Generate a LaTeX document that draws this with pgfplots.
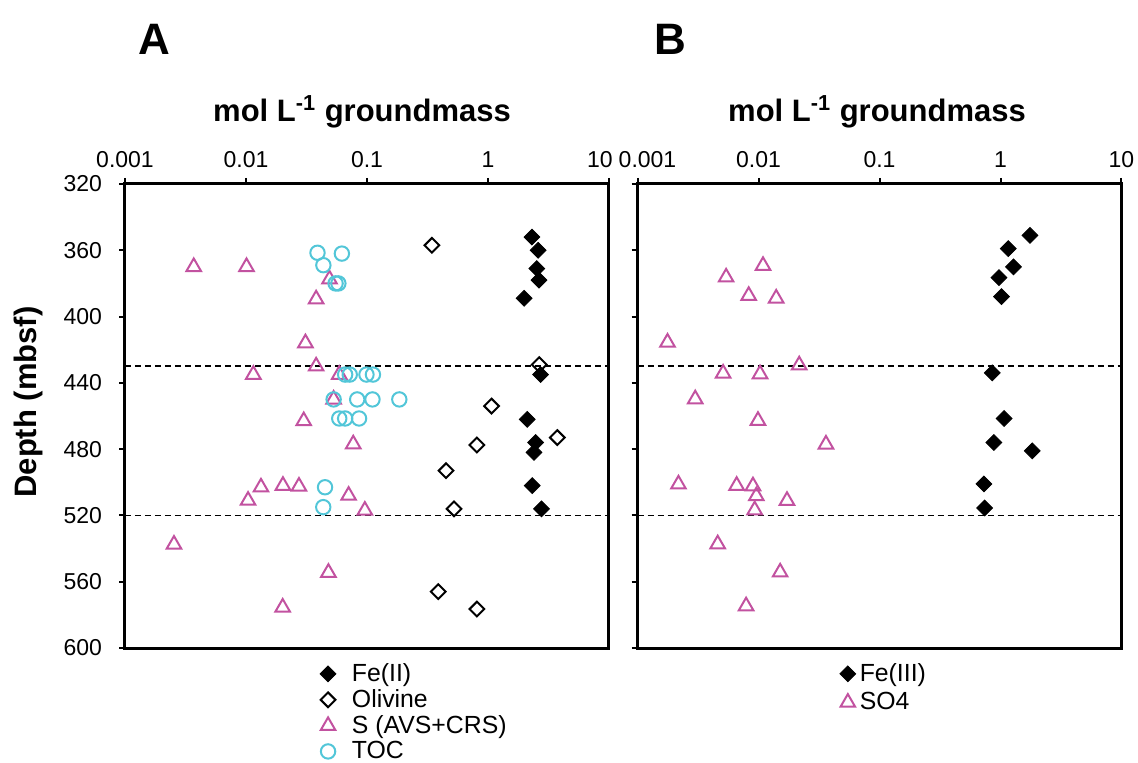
\documentclass[border=0pt]{standalone}
\usepackage{fontspec}
\setmainfont{Liberation Sans}
\usepackage{pgfplots}
\pgfplotsset{compat=1.18}

\definecolor{smag}{RGB}{194,82,160}
\definecolor{tocc}{RGB}{82,198,216}

\begin{document}
\begin{tikzpicture}
\useasboundingbox (-62.5pt,-57.5pt) rectangle (506.5pt,324pt);

% panel A
\begin{axis}[
  at={(0pt,0pt)}, anchor=south west,
  scale only axis, width=242pt, height=232pt,
  xmode=log, xmin=0.001, xmax=10,
  ymin=320, ymax=600, y dir=reverse,
  xtick={0.001,0.01,0.1,1,10},
  xticklabels={0.001,0.01,0.1,1,\hspace*{-9pt}10},
  xtick pos=right, xticklabel pos=right,
  ytick={320,360,400,440,480,520,560,600},
  yticklabels={320,360,400,440,480,520,560,600},
  ytick pos=left,
  yticklabel style={xshift=-5pt},
  xticklabel style={yshift=1.5pt},
  xminorticks=false, yminorticks=false,
  tick align=outside, major tick length=3pt,
  axis line style={line width=1.5pt},
  tick style={black, line width=1pt},
  tick label style={font=\fontsize{11.5}{14}\selectfont},
  legend style={draw=none, fill=none, font=\fontsize{12.4}{13}\selectfont,
    cells={anchor=west}, row sep=-1.5pt, at={(0.39,-0.015)}, anchor=north west,
    /tikz/every odd column/.append style={column sep=6pt}},
]
\addplot[black, dashed, dash pattern=on 3pt off 2pt, line width=0.8pt, forget plot]
  coordinates {(0.001,430) (10,430)};
\addplot[black, dashed, dash pattern=on 3pt off 2pt, line width=0.8pt, forget plot]
  coordinates {(0.001,520) (10,520)};
\addplot[only marks, mark=square*, mark size=2.8pt,
    mark options={rotate=45, draw=black, fill=black}] coordinates {
  (2.31,352) (2.60,360) (2.53,371) (2.64,378) (1.99,389) (2.72,435)
  (2.11,462) (2.48,476) (2.40,482) (2.32,502) (2.77,516)};
\addlegendentry{Fe(II)}
\addplot[only marks, mark=square, mark size=2.6pt,
    mark options={rotate=45, draw=black, line width=1pt}] coordinates {
  (0.344,357) (2.65,429) (1.07,454) (3.74,473) (0.81,477.5) (0.45,493)
  (0.524,516) (0.388,566) (0.81,576.5)};
\addlegendentry{Olivine}
\addplot[only marks, mark=triangle, mark size=4.2pt,
    mark options={draw=smag, line width=1pt}] coordinates {
  (0.0037,370) (0.0101,370) (0.049,377.5) (0.038,389.5) (0.031,416)
  (0.038,430) (0.0115,435) (0.059,435) (0.053,450) (0.030,463)
  (0.077,477) (0.0104,511) (0.0133,503) (0.0202,502) (0.0274,502.5)
  (0.0705,508) (0.096,517) (0.00254,537.5) (0.048,554.5) (0.0201,575.5)};
\addlegendentry{S (AVS+CRS)}
\addplot[only marks, mark=o, mark size=3.6pt,
    mark options={draw=tocc, line width=1pt}] coordinates {
  (0.039,361.5) (0.062,362) (0.0436,369) (0.055,380) (0.058,380)
  (0.066,435) (0.072,435) (0.099,435) (0.112,435)
  (0.053,450) (0.083,450) (0.111,450) (0.185,450)
  (0.059,461.5) (0.066,461.5) (0.086,461.5) (0.045,503) (0.0435,515)};
\addlegendentry{TOC}
\end{axis}

% panel B
\begin{axis}[
  at={(256.25pt,0pt)}, anchor=south west,
  scale only axis, width=242pt, height=232pt,
  xmode=log, xmin=0.001, xmax=10,
  ymin=320, ymax=600, y dir=reverse,
  xtick={0.001,0.01,0.1,1,10},
  xticklabels={0.001\hspace*{-10pt},0.01,0.1,1,10},
  xtick pos=right, xticklabel pos=right,
  ytick={320,360,400,440,480,520,560,600},
  yticklabels={},
  ytick pos=left,
  xticklabel style={yshift=1.5pt},
  xminorticks=false, yminorticks=false,
  tick align=outside, major tick length=3pt,
  axis line style={line width=1.5pt},
  tick style={black, line width=1pt},
  tick label style={font=\fontsize{11.5}{14}\selectfont},
  legend style={draw=none, fill=none, font=\fontsize{12.4}{13}\selectfont,
    cells={anchor=west}, row sep=0pt, at={(0.405,-0.015)}, anchor=north west},
]
\addplot[black, dashed, dash pattern=on 3pt off 2pt, line width=0.8pt, forget plot]
  coordinates {(0.001,430) (10,430)};
\addplot[black, dashed, dash pattern=on 3pt off 2pt, line width=0.8pt, forget plot]
  coordinates {(0.001,520) (10,520)};
\addplot[only marks, mark=square*, mark size=2.8pt,
    mark options={rotate=45, draw=black, fill=black}] coordinates {
  (1.75,351) (1.16,359) (1.28,370) (0.97,376.5) (1.02,388) (0.855,434)
  (1.07,461.5) (0.88,476) (1.83,481) (0.73,501) (0.74,515.5)};
\addlegendentry{Fe(III)}
\addplot[only marks, mark=triangle, mark size=4.2pt,
    mark options={draw=smag, line width=1pt}] coordinates {
  (0.0109,369.3) (0.0054,376.3) (0.0083,387.4) (0.014,389) (0.00177,415.6)
  (0.0217,429.3) (0.0051,434.3) (0.0103,434.7) (0.003,449.8) (0.0099,462.8)
  (0.0361,477.1) (0.00218,501.2) (0.0066,502) (0.009,502.3) (0.0096,508.3)
  (0.0172,511.1) (0.0093,516.8) (0.0046,537.3) (0.0151,554.3) (0.0079,574.7)};
\addlegendentry{SO4}
\end{axis}

% labels
\node[font=\fontsize{22}{24}\selectfont\bfseries] at (14.5pt,304.5pt) {A};
\node[font=\fontsize{22}{24}\selectfont\bfseries] at (272.5pt,304.5pt) {B};
\node[font=\fontsize{15.5}{18}\selectfont\bfseries] at (118.5pt,268pt) {mol L\textsuperscript{-1} groundmass};
\node[font=\fontsize{15.5}{18}\selectfont\bfseries] at (376pt,268pt) {mol L\textsuperscript{-1} groundmass};
\node[font=\fontsize{15.5}{18}\selectfont\bfseries, rotate=90] at (-48.5pt,123pt) {Depth (mbsf)};
\end{tikzpicture}
\end{document}
